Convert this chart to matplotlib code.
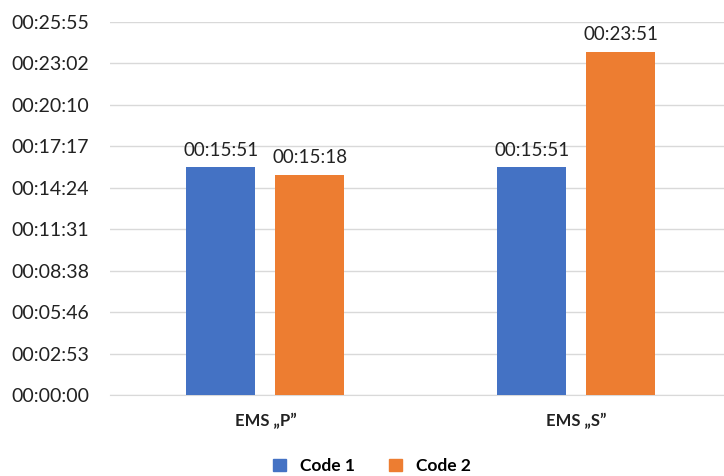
import matplotlib.pyplot as plt
from matplotlib.ticker import FixedLocator, FuncFormatter
from matplotlib.patches import Patch
import numpy as np

categories = ['EMS \u201eP\u201d', 'EMS \u201eS\u201d']
series = ['Code 1', 'Code 2']
code1_sec = [951, 951]     # 00:15:51, 00:15:51
code2_sec = [918, 1431]    # 00:15:18, 00:23:51
y_step = 172.8
y_max = 1555.2

colors = ['#4472C4', '#ED7D31']
plt.rcParams['font.family'] = ['Lato', 'DejaVu Sans']


def hms(sec, pos=None):
    s = int(round(sec))
    return f'{s // 3600:02d}:{(s % 3600) // 60:02d}:{s % 60:02d}'


fig = plt.figure(figsize=(7.24, 4.76), dpi=100)
ax = fig.add_axes([110 / 724, 81 / 476, 1 - 110 / 724, (395 - 22) / 476])

x = np.arange(len(categories))
w = 0.222
off = 0.143
for vals, sign, c in zip([code1_sec, code2_sec], [-1, 1], colors):
    bars = ax.bar(x + sign * off, vals, width=w, color=c, zorder=3)
    for b, v in zip(bars, vals):
        ax.text(b.get_x() + b.get_width() / 2, v + 35, hms(v),
                ha='center', va='bottom', fontsize=13.5, color='#222222')

ax.set_ylim(0, y_max)
ax.set_xlim(-0.5, 1.476)
ax.yaxis.set_major_locator(FixedLocator(np.arange(10) * y_step))
ax.yaxis.set_major_formatter(FuncFormatter(hms))
ax.grid(axis='y', color='#d9d9d9', linewidth=1, zorder=0)
for s in ['top', 'right', 'left']:
    ax.spines[s].set_visible(False)
ax.spines['bottom'].set_color('#d9d9d9')
ax.tick_params(axis='y', length=0, pad=15, labelsize=14, labelcolor='#222222')
ax.tick_params(axis='x', length=0, pad=13, labelsize=12)
ax.set_xticks(x)
ax.set_xticklabels(categories, fontweight='bold', color='#222222')

handles = [Patch(color=c, label=l) for c, l in zip(colors, series)]
fig.legend(handles=handles, loc='center', bbox_to_anchor=(372 / 724, 1 - 466 / 476),
           ncol=2, frameon=False, handlelength=0.75, handleheight=0.75,
           columnspacing=2.0, handletextpad=0.8,
           prop={'weight': 'bold', 'size': 12.5})

fig.savefig('out.png', dpi=100)
